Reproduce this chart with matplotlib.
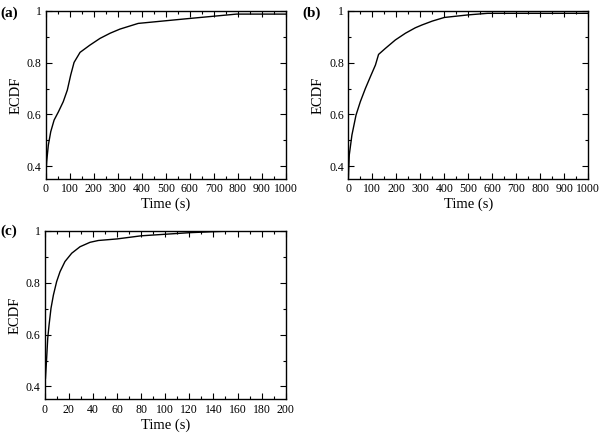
import matplotlib.pyplot as plt
from matplotlib.ticker import MultipleLocator, FormatStrFormatter

#### Values (time in s, ECDF) ####
time_a = [0, 4, 11, 21, 35, 53, 73, 90, 104, 118, 143, 184, 226, 268, 309, 385, 586, 794, 1000]
ecdf_a = [0.352, 0.417, 0.481, 0.533, 0.578, 0.610, 0.649, 0.694, 0.752, 0.801, 0.840, 0.868, 0.894,
          0.914, 0.930, 0.952, 0.970, 0.988, 0.988]

time_b = [0, 4, 15, 32, 50, 71, 92, 113, 126, 154, 196, 238, 279, 307, 350, 400, 500, 580, 1000]
ecdf_b = [0.35, 0.443, 0.52, 0.597, 0.649, 0.70, 0.746, 0.791, 0.832, 0.855, 0.888, 0.914, 0.935,
          0.946, 0.961, 0.975, 0.985, 0.991, 0.991]

time_c = [0.6, 1.6, 2.5, 3.6, 5.2, 7.2, 9.9, 12.7, 16.8, 22.4, 29.3, 37.6, 44.5, 60, 80, 100, 120,
          140, 160, 200]
ecdf_c = [0.432, 0.51, 0.586, 0.637, 0.701, 0.752, 0.804, 0.842, 0.881, 0.913, 0.938, 0.955, 0.962,
          0.968, 0.980, 0.986, 0.992, 0.996, 0.999, 1.0]

plt.rcParams['font.family'] = 'Liberation Serif'

fig = plt.figure(figsize=(6.02, 4.33), dpi=100)

panels = [
    ('(a)', time_a, ecdf_a, 1000, 100, 50, [0.0759, 0.5866, 0.3992, 0.388], (0.0, 0.985)),
    ('(b)', time_b, ecdf_b, 1000, 100, 50, [0.5786, 0.5866, 0.3987, 0.388], (0.502, 0.985)),
    ('(c)', time_c, ecdf_c, 200, 20, 10, [0.0743, 0.0774, 0.4003, 0.390], (0.0, 0.482)),
]

for label, x, y, xmax, major, minor, rect, lab_pos in panels:
    ax = fig.add_axes(rect)
    ax.plot(x, y, color='black', linewidth=1.0)
    ax.set_xlim(0, xmax)
    ax.set_ylim(0.35, 1.0)
    ax.xaxis.set_major_locator(MultipleLocator(major))
    ax.xaxis.set_minor_locator(MultipleLocator(minor))
    ax.yaxis.set_major_locator(MultipleLocator(0.2))
    ax.yaxis.set_minor_locator(MultipleLocator(0.1))
    ax.yaxis.set_major_formatter(FormatStrFormatter('%g'))
    ax.tick_params(which='both', direction='in', top=True, right=True, labelsize=8.5, pad=3)
    ax.tick_params(which='major', length=4, width=0.8)
    ax.tick_params(which='minor', length=2.5, width=0.8)
    for sp in ax.spines.values():
        sp.set_linewidth(1.0)
    ax.set_xlabel('Time (s)', fontsize=10.5, labelpad=2)
    ax.set_ylabel('ECDF', fontsize=10.5, labelpad=3)
    fig.text(lab_pos[0], lab_pos[1], label, fontsize=11, fontweight='bold', va='top', ha='left')

fig.savefig('out.png', dpi=100)
